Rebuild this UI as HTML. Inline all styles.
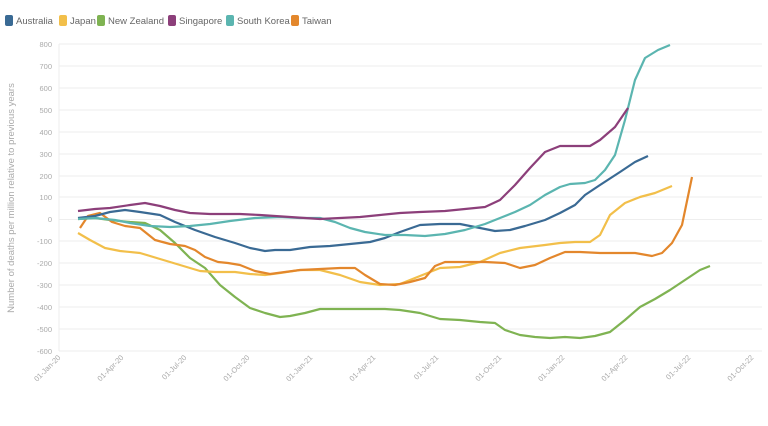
<!DOCTYPE html>
<html><head><meta charset="utf-8"><style>
body{margin:0;background:#fff;width:768px;height:421px;overflow:hidden;font-family:"Liberation Sans",sans-serif}
</style></head><body>
<svg width="768" height="421" xmlns="http://www.w3.org/2000/svg" font-family="Liberation Sans, sans-serif">
<g font-size="9.5" fill="#666">
<rect x="5" y="15" width="8" height="11" rx="2" fill="#3a6a94"/><text x="16" y="24">Australia</text>
<rect x="59" y="15" width="8" height="11" rx="2" fill="#f2bf4a"/><text x="70" y="24">Japan</text>
<rect x="97" y="15" width="8" height="11" rx="2" fill="#7fb352"/><text x="108" y="24">New Zealand</text>
<rect x="168" y="15" width="8" height="11" rx="2" fill="#8c3f7a"/><text x="179" y="24">Singapore</text>
<rect x="226" y="15" width="8" height="11" rx="2" fill="#5bb5b0"/><text x="237" y="24">South Korea</text>
<rect x="291" y="15" width="8" height="11" rx="2" fill="#e3872c"/><text x="302" y="24">Taiwan</text>
</g>
<g stroke="#eee" stroke-width="1">
<line x1="59" x2="762" y1="44" y2="44"/><line x1="59" x2="762" y1="66" y2="66"/><line x1="59" x2="762" y1="88" y2="88"/><line x1="59" x2="762" y1="110" y2="110"/><line x1="59" x2="762" y1="132" y2="132"/><line x1="59" x2="762" y1="154" y2="154"/><line x1="59" x2="762" y1="176" y2="176"/><line x1="59" x2="762" y1="197" y2="197"/><line x1="59" x2="762" y1="219.5" y2="219.5"/><line x1="59" x2="762" y1="241" y2="241"/><line x1="59" x2="762" y1="263" y2="263"/><line x1="59" x2="762" y1="285" y2="285"/><line x1="59" x2="762" y1="307" y2="307"/><line x1="59" x2="762" y1="329" y2="329"/><line x1="59" x2="762" y1="351" y2="351"/>
<line x1="59" x2="59" y1="44" y2="351"/>
</g>
<g font-size="7.5" fill="#aaa" text-anchor="end">
<text x="52" y="47">800</text><text x="52" y="69">700</text><text x="52" y="91">600</text><text x="52" y="113">500</text><text x="52" y="135">400</text><text x="52" y="157">300</text><text x="52" y="179">200</text><text x="52" y="200">100</text><text x="52" y="222">0</text><text x="52" y="244">-100</text><text x="52" y="266">-200</text><text x="52" y="288">-300</text><text x="52" y="310">-400</text><text x="52" y="332">-500</text><text x="52" y="354">-600</text>
</g>
<text transform="translate(14,198) rotate(-90)" font-size="9.5" fill="#aaa" text-anchor="middle">Number of deaths per million relative to previous years</text>
<g font-size="7.5" fill="#aaa" text-anchor="end">
<text transform="translate(61,358) rotate(-45)">01-Jan-20</text>
<text transform="translate(124,358) rotate(-45)">01-Apr-20</text>
<text transform="translate(187,358) rotate(-45)">01-Jul-20</text>
<text transform="translate(250,358) rotate(-45)">01-Oct-20</text>
<text transform="translate(313,358) rotate(-45)">01-Jan-21</text>
<text transform="translate(376,358) rotate(-45)">01-Apr-21</text>
<text transform="translate(439,358) rotate(-45)">01-Jul-21</text>
<text transform="translate(502,358) rotate(-45)">01-Oct-21</text>
<text transform="translate(565,358) rotate(-45)">01-Jan-22</text>
<text transform="translate(628,358) rotate(-45)">01-Apr-22</text>
<text transform="translate(691,358) rotate(-45)">01-Jul-22</text>
<text transform="translate(754,358) rotate(-45)">01-Oct-22</text>
</g>
<g fill="none" stroke-width="2.2" stroke-linejoin="round">
<polyline stroke="#7fb352" points="78,219 95,218 110,220 130,222 145,223 160,230 175,243 190,258 205,268 220,285 235,297 250,308 265,313 280,317 290,316 305,313 320,309 335,309 350,309 365,309 385,309 400,310 420,313 440,319 460,320 480,322 495,323 505,330 520,335 535,337 550,338 565,337 580,338 595,336 610,332 625,320 640,307 655,299 670,290 685,280 700,270 710,266"/>
<polyline stroke="#f2bf4a" points="78,233 90,240 105,248 120,251 140,253 160,259 180,265 200,271 215,272 235,272 250,274 265,275 280,273 300,270 320,270 340,275 360,282 380,285 400,284 420,276 440,268 460,267 480,262 500,253 520,248 545,245 560,243 575,242 590,242 600,235 610,215 625,203 640,197 655,193 672,186"/>
<polyline stroke="#e3872c" points="80,228 88,216 100,213 112,222 125,226 140,228 155,240 170,244 185,246 195,250 205,257 218,262 228,263 240,265 255,271 270,274 285,272 300,270 320,269 340,268 355,268 365,275 380,284 395,285 410,282 425,278 435,266 445,262 465,262 485,262 505,263 520,268 535,265 550,258 565,252 580,252 600,253 620,253 635,253 652,256 662,253 672,243 682,225 692,177"/>
<polyline stroke="#3a6a94" points="78,218 95,216 110,212 125,210 140,212 160,215 175,222 195,230 215,237 235,243 250,248 265,251 275,250 290,250 310,247 330,246 350,244 370,242 385,238 400,232 420,225 440,224 460,224 480,228 495,231 510,230 525,226 545,220 560,213 575,205 585,195 600,185 620,172 635,162 648,156"/>
<polyline stroke="#5bb5b0" points="78,219 95,218 115,220 130,223 150,226 170,227 190,226 210,224 230,221 255,218 280,217 300,218 320,218 335,222 350,228 365,232 385,235 405,235 425,236 445,234 465,230 485,224 500,218 515,212 530,205 545,195 560,187 570,184 585,183 595,180 605,170 615,155 625,120 635,80 645,58 658,50 670,45"/>
<polyline stroke="#8c3f7a" points="78,211 95,209 110,208 130,205 145,203 160,206 175,210 190,213 210,214 240,214 260,215 290,217 320,219 340,218 360,217 380,215 400,213 420,212 445,211 465,209 485,207 500,200 515,185 530,168 545,152 560,146 575,146 590,146 600,140 615,127 628,108"/>
</g>
</svg>
</body></html>
